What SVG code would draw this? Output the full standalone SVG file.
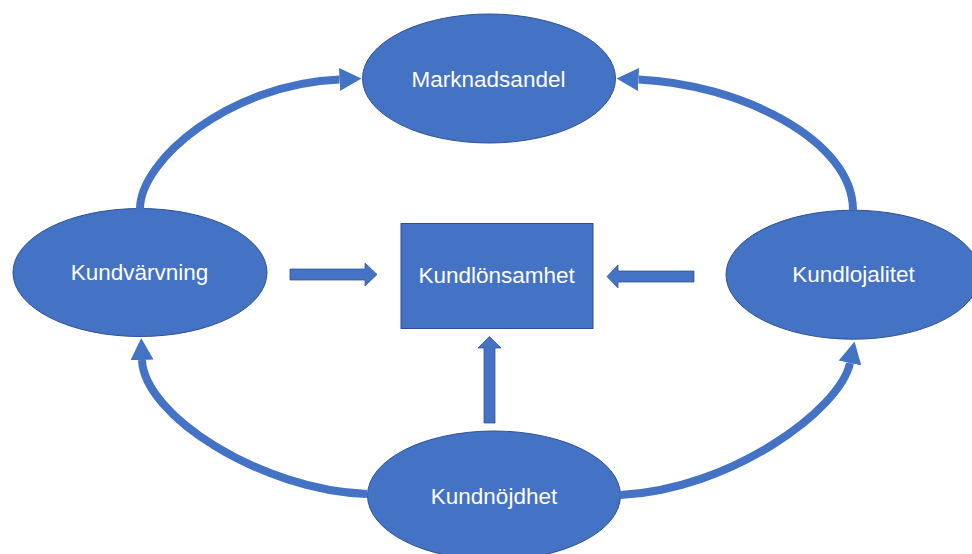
<svg xmlns="http://www.w3.org/2000/svg" width="972" height="554" viewBox="0 0 972 554">
  <style>
    .node { fill: #4472C4; stroke: #2F528F; stroke-width: 1; }
    .label { fill: #FFFFFF; font-family: "Liberation Sans", Arial, sans-serif; font-size: 22.5px; text-anchor: middle; }
    .curve { fill: none; stroke: #4472C4; stroke-width: 8; }
    .block { fill: #4472C4; stroke: #2F528F; stroke-width: 0.75; }
  </style>
  <defs>
    <marker id="ah" markerUnits="userSpaceOnUse" markerWidth="24" markerHeight="24" viewBox="0 -12 24 24" refX="0" refY="0" orient="auto">
      <path d="M0,-11.5 L22,0 L0,11.5 z" fill="#4472C4"/>
    </marker>
  </defs>
  <rect width="972" height="554" fill="#FFFFFF"/>

  <g id="marknadsandel">
    <ellipse class="node" cx="489" cy="78.5" rx="126.5" ry="64.5"/>
    <text class="label" x="488.5" y="87">Marknadsandel</text>
  </g>
  <g id="kundvarvning">
    <ellipse class="node" cx="140" cy="272.5" rx="127" ry="64"/>
    <text class="label" x="139.5" y="280">Kundvärvning</text>
  </g>
  <g id="kundlonsamhet">
    <rect class="node" x="401" y="223.5" width="192" height="105"/>
    <text class="label" x="496.7" y="283">Kundlönsamhet</text>
  </g>
  <g id="kundlojalitet">
    <ellipse class="node" cx="853" cy="274.7" rx="127" ry="64.5"/>
    <text class="label" x="853.5" y="281.5">Kundlojalitet</text>
  </g>
  <g id="kundnojdhet">
    <ellipse class="node" cx="494" cy="495.5" rx="126.5" ry="64.5"/>
    <text class="label" x="494" y="503.5">Kundnöjdhet</text>
  </g>

  <g id="connectors">
    <path class="curve" d="M140,209 C140,160 230,84 339.5,79.5" marker-end="url(#ah)"/>
    <path class="curve" d="M853,210 C853,140 740,84 638.5,79.5" marker-end="url(#ah)"/>
    <path class="curve" d="M367,494 C260,490 144,415 142,360" marker-end="url(#ah)"/>
    <path class="curve" d="M620,495 C730,490 840,410 850,363" marker-end="url(#ah)"/>
    <polygon class="block" points="290,269 365,269 365,263 377,274.5 365,286 365,280 290,280"/>
    <polygon class="block" points="694,271 618,271 618,265 607,276.5 618,288 618,282 694,282"/>
    <polygon class="block" points="484,423 484,348 478,348 489.5,336.5 501,348 495,348 495,423"/>
  </g>
</svg>
